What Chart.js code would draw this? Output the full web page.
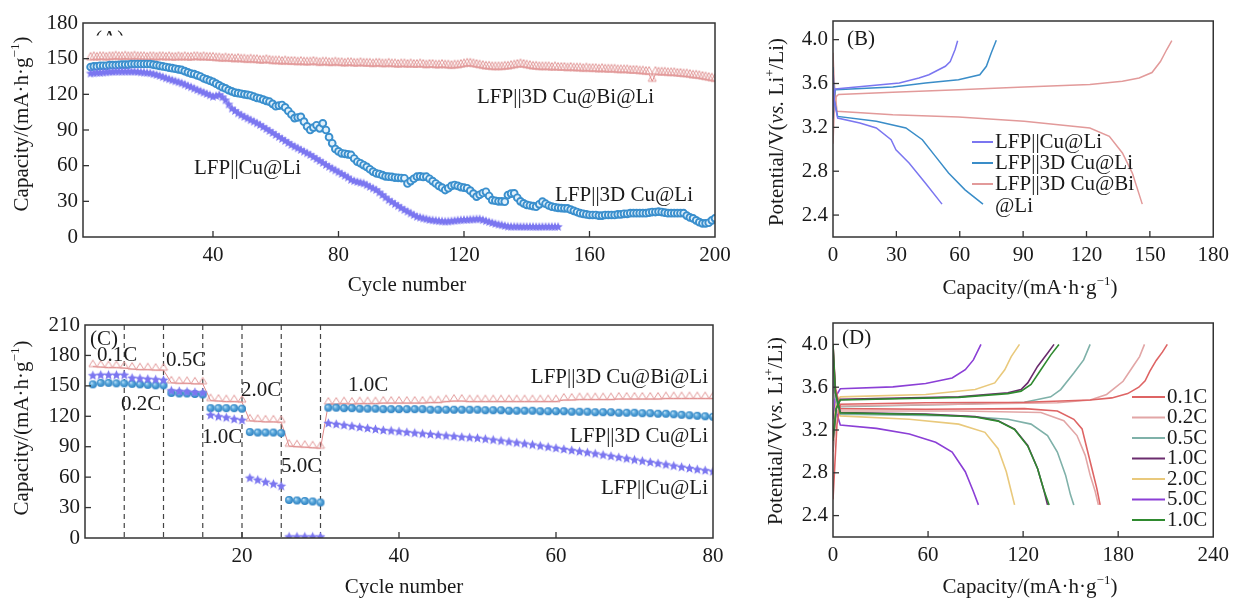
<!DOCTYPE html>
<html>
<head>
<meta charset="utf-8">
<script src="https://cdn.jsdelivr.net/npm/chart.js@4.4.1/dist/chart.umd.min.js"></script>
<style>
  body { margin: 0; background: #fff; }
  #wrap { position: relative; width: 1235px; height: 599px; }
  #wrap canvas { position: absolute; left: 0; top: 0; }
</style>
</head>
<body>
<div id="wrap">
  <canvas id="cA" width="1235" height="599"></canvas>
  <canvas id="cB" width="1235" height="599"></canvas>
  <canvas id="cC" width="1235" height="599"></canvas>
  <canvas id="cD" width="1235" height="599"></canvas>
</div>
<script>
// (A) 循环性能, 每个数组一个值对应一圈
const capA_BiLi = [
  149, 149.5, 149, 149.5, 149.5, 149, 149.5, 149.5, 150, 149.5,
  149.5, 150, 149.5, 149.5, 150, 149.5, 149.5, 149.5, 149, 149.5,
  149.5, 149, 149.5, 149.5, 149, 149.5, 149, 149, 149.5, 149,
  149.5, 149, 149, 149.5, 149.5, 149, 149.5, 149, 149, 149,
  148.5, 148.5, 148, 148.5, 148, 148, 147.5, 148, 147.5, 147.5,
  147, 147.5, 147, 147, 146.5, 146.5, 147, 146.5, 146, 146,
  146, 145.5, 146, 145.5, 145.5, 145.5, 145, 145.5, 145, 145,
  145, 145.5, 145, 144.5, 145, 145, 144.5, 144.5, 145, 144.5,
  144.5, 144, 144.5, 144.5, 144, 144, 144.5, 144, 144, 144,
  143.5, 144, 144, 143.5, 143.5, 144, 143.5, 143.5, 143, 143.5,
  143.5, 143, 143.5, 143, 143, 143.5, 143, 142.5, 143, 143,
  142.5, 142.5, 143, 142.5, 142.5, 142, 142.5, 142.5, 143, 143.5,
  144, 144, 143.5, 143, 142.5, 142, 141.5, 141.5, 141, 141,
  141, 141, 141.5, 141.5, 142, 142.5, 143, 143.5, 143, 142.5,
  142, 141.5, 141.5, 141, 141, 141, 141, 140.5, 141, 140.5,
  140.5, 140.5, 140, 140.5, 140, 140, 140, 139.5, 140, 139.5,
  139.5, 139.5, 139, 139.5, 139, 139, 139, 139, 138.5, 138.5,
  138.5, 138.5, 138, 138, 138, 137.5, 137.5, 137, 137, 131,
  137, 136.5, 136.5, 136.5, 136, 136, 136, 135.5, 135.5, 135,
  135, 134.5, 134, 134, 133.5, 133, 132.5, 132, 131.5, 131
];
const capA_3DLi = [
  143, 143.5, 143.5, 144, 144, 144, 144.5, 144.5, 144.5, 144.7,
  145, 145, 145, 145.5, 145.5, 145.5, 145.5, 145.5, 145.5, 145.5,
  145, 144.5, 144, 143.5, 143, 142.5, 142, 141.5, 141, 140.5,
  139.5, 138.5, 137.5, 137, 136, 135, 133.5, 132.5, 131.5, 130.5,
  129, 127.5, 126, 125, 123.5, 122.5, 121.5, 121, 120.5, 120,
  119.5, 119, 118, 117, 116.5, 115.5, 114.5, 113.8, 112, 110,
  110.5, 111, 109, 106, 103, 100, 100.5, 101, 97, 93,
  90, 92, 94, 91.4, 95.6, 90, 84, 78.8, 74, 72,
  70.4, 70, 69.5, 69, 66, 63.3, 62, 60.5, 59, 57,
  55, 53.6, 53, 52, 51, 50.7, 50.5, 50, 49.8, 49.6,
  49.4, 45, 47, 49, 50.7, 51, 50.5, 50.7, 49, 47,
  45, 43, 41.5, 39.5, 41, 43, 43.7, 43, 42, 41.5,
  41, 39, 36.5, 34, 35.5, 37, 38, 34.5, 31, 30.5,
  30, 30, 29.7, 35.3, 36.5, 36.7, 33, 30, 28.3, 27,
  26.5, 26, 25.5, 27.5, 29.7, 28, 26.5, 25.5, 25, 24.5,
  24.3, 24.1, 24, 23, 22, 21, 20, 19.5, 19, 18.5,
  18.5, 18.5, 18, 18, 18.5, 18.5, 18.5, 18.5, 19, 19,
  19.5, 19.5, 20, 20, 20, 20, 20, 20, 20.5, 21,
  21, 21.3, 21, 20.5, 20, 20, 20, 20, 20, 20,
  18, 16.5, 15.7, 14, 12.5, 11.5, 11.5, 12, 14, 15.7
];
const capA_CuLi = [
  137.5, 137.7, 138, 138, 138.3, 138.5, 138.7, 138.8, 139, 139,
  139, 139, 139, 139, 139, 138.8, 138.5, 138.3, 138, 137.7,
  137, 136.3, 135.5, 134.5, 133.5, 132.7, 131.8, 131, 130.2, 129.3,
  128.2, 127, 126, 124.8, 123.6, 122.5, 121.4, 120.3, 119.2, 118,
  118.6, 119.4, 117.5, 115, 111.5, 108, 106, 104, 102.5, 101,
  99.7, 98.3, 97, 95.6, 94.2, 92.5, 90.8, 89.2, 87.5, 85.8,
  84.1, 82.5, 80.8, 79.1, 77.4, 76, 74.6, 73.2, 71.8, 70.4,
  69, 67.3, 65.6, 64, 62.3, 60.6, 59, 57.5, 56, 54.5,
  53, 51.5, 50, 48, 47, 46.3, 45.6, 45, 43.6, 42.2,
  40.8, 39.5, 37.4, 35.3, 33.2, 31, 29.4, 27.7, 26, 24.3,
  22.7, 21.3, 19.8, 18.4, 17, 16.3, 15.6, 15, 14.3, 14,
  13.7, 13.4, 13.1, 12.9, 13, 13.3, 13.6, 13.9, 14.1, 14.3,
  14.4, 14.6, 14.7, 14.9, 15, 14.2, 13.4, 12.6, 11.8, 11,
  10.4, 9.9, 9.3, 8.7, 8.6, 8.6, 8.6, 8.5, 8.5, 8.5,
  8.5, 8.5, 8.4, 8.4, 8.5, 8.5, 8.5, 8.5, 8.5, 8.5
];
const ticksA_x = [40, 80, 120, 160, 200];
const ticksA_y = [0, 30, 60, 90, 120, 150, 180];

// (B) 充放电曲线 [容量, 电压]
const B_CuLi_chg = [[0, 3.35], [0.5, 3.5], [1.1, 3.55], [31.4, 3.605], [40.7, 3.65], [45.4, 3.68], [53.2, 3.757], [55.5, 3.8], [57.8, 3.91], [59, 3.99]];
const B_CuLi_dis = [[0, 3.7], [0.5, 3.45], [2.2, 3.285], [12.7, 3.24], [20.5, 3.194], [27.5, 3.087], [29.8, 2.996], [36, 2.874], [43.8, 2.69], [51.6, 2.5]];
const B_3DLi_chg = [[0, 3.28], [0.5, 3.45], [1.1, 3.544], [28.3, 3.568], [43.8, 3.605], [59.4, 3.635], [69.5, 3.68], [72.6, 3.757], [74.9, 3.878], [77.3, 3.994]];
const B_3DLi_dis = [[0, 3.75], [0.6, 3.45], [2.2, 3.3], [20.5, 3.255], [34.5, 3.194], [42.3, 3.087], [48.5, 2.935], [54.7, 2.783], [62.5, 2.63], [71, 2.5]];
const B_BiLi_chg = [[0, 3.05], [0.6, 3.35], [1.5, 3.48], [2.6, 3.5], [28.3, 3.52], [59.4, 3.544], [90.5, 3.568], [121.6, 3.59], [137, 3.62], [144.9, 3.65], [151, 3.7], [155, 3.8], [158, 3.91], [160.4, 3.99]];
const B_BiLi_dis = [[0, 3.88], [0.6, 3.6], [1.9, 3.346], [28.3, 3.315], [59.4, 3.294], [90.5, 3.255], [121.6, 3.194], [130.8, 3.118], [137, 2.966], [141.7, 2.783], [146.4, 2.5]];
const ticksB_x = [0, 30, 60, 90, 120, 150, 180];
const ticksB_y = [2.4, 2.8, 3.2, 3.6, 4.0];

// (C) 倍率性能
const capC_BiLi = [
  169, 168.5, 168, 168, 167.5, 166.5, 166, 166, 165.5, 165.5,
  153, 152.5, 152.5, 152, 152, 135.5, 135, 134.5, 134.5, 134,
  115.5, 115, 114.5, 114.5, 114, 90.5, 90, 89.5, 89, 88.5,
  132, 132, 132.5, 132, 132.5, 132.5, 132.5, 133, 133, 133,
  133, 133, 133, 133.5, 133.5, 134.5, 135, 135, 134.5, 134.5,
  134.5, 134.5, 134.5, 134.5, 134.5, 134.5, 134.5, 134.5, 134.5, 134.5,
  136, 136, 136.5, 136.5, 136.5, 136.5, 136.5, 137, 137, 137,
  137, 137, 137, 137.5, 137.5, 137.5, 137.5, 137.5, 137.5, 137.5
];
const capC_3DLi = [
  151.5, 153, 153, 152.5, 152.5, 152, 151.5, 151, 150.5, 150.5,
  143, 142.5, 142.5, 142, 141.5, 128, 128, 128, 128, 127.5,
  104.5, 104, 104, 104, 103.5, 37.5, 37, 36.5, 36, 35,
  128.5, 128.5, 128, 128, 127.5, 127.5, 127.5, 127, 127, 127,
  127, 127, 127, 126.5, 126.5, 126.5, 126.5, 126.5, 126.5, 126.5,
  126, 126, 126, 125.5, 125.5, 125.5, 125.5, 125, 125, 125,
  125, 124.5, 124.5, 124.5, 124, 124, 124, 123.5, 123.5, 123.5,
  123, 123, 122.5, 122.5, 122, 121.5, 121, 120.5, 120, 119.5
];
const capC_CuLi = [
  160, 160.5, 160.5, 160.5, 160.5, 157.5, 157, 156.5, 156, 155.5,
  145, 144.5, 144, 143.5, 143, 121, 119.5, 118.5, 117, 116,
  59, 57, 55, 53, 51, 1, 1, 1, 1, 1,
  113, 112, 111, 110, 109, 108, 107, 106, 105.5, 104.8,
  104, 103.3, 102.6, 102, 101.3, 100.6, 100, 99.3, 98.8, 98.3,
  97.4, 96.5, 95.6, 94.7, 93.7, 92.7, 91.7, 90.6, 89.5, 88.4,
  87.3, 86.2, 85.1, 84, 82.9, 81.7, 80.5, 79.3, 78.1, 76.9,
  75.7, 74.5, 73.3, 72.1, 70.9, 69.7, 68.5, 67.3, 66.4, 65.4
];
const rateSwitchC = [5, 10, 15, 20, 25, 30];
const ticksC_x = [20, 40, 60, 80];
const ticksC_y = [0, 30, 60, 90, 120, 150, 180, 210];

// (D) 不同倍率的充放电曲线
const D_01_chg = [[0, 2.55], [2.5, 3.25], [4.6, 3.44], [58.5, 3.455], [120.8, 3.46], [162.3, 3.48], [176, 3.5], [186, 3.54], [193, 3.6], [197, 3.66], [200, 3.75], [204, 3.85], [208, 3.93], [211, 4.0]];
const D_01_dis = [[0, 4.0], [1.5, 3.6], [4.6, 3.4], [58.5, 3.394], [120.8, 3.4], [141.6, 3.378], [152, 3.3], [157.2, 3.21], [160.3, 3.025], [163.4, 2.84], [166.5, 2.655], [168.6, 2.5]];
const D_02_chg = [[0, 3.0], [2, 3.35], [4.6, 3.425], [79.3, 3.44], [141.6, 3.455], [162.3, 3.48], [172.7, 3.532], [183.1, 3.655], [189.3, 3.794], [193.5, 3.886], [196.6, 4.0]];
const D_02_dis = [[0, 3.95], [1.5, 3.55], [4.6, 3.378], [79.3, 3.378], [131.2, 3.363], [145.7, 3.286], [154, 3.148], [159.2, 2.963], [162.3, 2.778], [165.5, 2.625], [167.5, 2.5]];
const D_05_chg = [[0, 3.0], [2, 3.35], [4.6, 3.418], [79.3, 3.44], [120.8, 3.46], [137.4, 3.51], [143.7, 3.578], [152, 3.732], [158.2, 3.855], [162.3, 4.0]];
const D_05_dis = [[0, 3.9], [1.5, 3.5], [4.6, 3.348], [79.3, 3.332], [110.4, 3.3], [125, 3.255], [135.4, 3.148], [141.6, 2.994], [146.8, 2.778], [149.9, 2.594], [152, 2.5]];
const D_10_chg = [[0, 3.1], [2, 3.4], [4.6, 3.486], [79.3, 3.51], [110.4, 3.548], [118.7, 3.578], [122.9, 3.64], [129.1, 3.794], [135.4, 3.917], [139.5, 4.0]];
const D_10_dis = [[0, 4.0], [1.5, 3.55], [4.6, 3.363], [58.5, 3.348], [89.7, 3.326], [104.2, 3.286], [114.6, 3.209], [122.9, 3.055], [129.1, 2.84], [133.3, 2.625], [135.4, 2.5]];
const D_20_chg = [[0, 3.2], [2, 3.45], [4.6, 3.51], [58.5, 3.532], [89.7, 3.578], [102.1, 3.64], [108.4, 3.763], [112.5, 3.886], [117.7, 4.0]];
const D_20_dis = [[0, 3.9], [1.5, 3.5], [4.6, 3.332], [48.2, 3.3], [79.3, 3.255], [95.9, 3.178], [104.2, 3.025], [109.4, 2.81], [112.5, 2.625], [114.6, 2.5]];
const D_50_chg = [[0, 3.3], [2, 3.52], [4.6, 3.585], [37.8, 3.603], [58.5, 3.634], [75.2, 3.686], [83.5, 3.763], [88.6, 3.855], [93.4, 4.0]];
const D_50_dis = [[0, 3.8], [1.5, 3.4], [4.6, 3.246], [27.4, 3.215], [48.2, 3.163], [64.8, 3.086], [75.2, 2.994], [83.5, 2.81], [88.6, 2.625], [91.8, 2.5]];
const D_10b_chg = [[0, 3.1], [2, 3.4], [4.6, 3.48], [79.3, 3.505], [110.4, 3.54], [118.7, 3.563], [125, 3.625], [131.2, 3.763], [137.4, 3.9], [142.6, 4.0]];
const D_10b_dis = [[0, 4.0], [1.5, 3.55], [4.6, 3.36], [58.5, 3.345], [89.7, 3.322], [104.2, 3.283], [114.6, 3.205], [122.9, 3.05], [129.1, 2.84], [133.3, 2.63], [136.4, 2.5]];
const ticksD_x = [0, 60, 120, 180, 240];
const ticksD_y = [2.4, 2.8, 3.2, 3.6, 4.0];

const FONT = '"Liberation Serif", "Times New Roman", serif';
const INK = '#1a1a1a';
const PURPLE = '#7b76f0', BLUE = '#3a8dc8', PINK = '#e29a9a';

const toXY = arr => arr.map(p => ({ x: p[0], y: p[1] }));
const toSeries = arr => arr.map((v, i) => ({ x: i + 1, y: v }));

// 标记图片
function starMark(r, color) {
  const s = Math.ceil(r * 2) + 2;
  const c = document.createElement('canvas');
  c.width = c.height = s;
  const g = c.getContext('2d');
  g.fillStyle = color;
  g.beginPath();
  for (let i = 0; i < 10; i++) {
    const rr = i % 2 ? r * 0.45 : r;
    const a = -Math.PI / 2 + i * Math.PI / 5;
    const px = s / 2 + rr * Math.cos(a), py = s / 2 + rr * Math.sin(a);
    if (i) g.lineTo(px, py); else g.moveTo(px, py);
  }
  g.closePath();
  g.fill();
  return c;
}
function ballMark(r) {
  const s = Math.ceil(r * 2) + 2;
  const c = document.createElement('canvas');
  c.width = c.height = s;
  const g = c.getContext('2d');
  const grad = g.createRadialGradient(s / 2 - r * 0.35, s / 2 - r * 0.35, 0, s / 2, s / 2, r);
  grad.addColorStop(0, '#cfeafb');
  grad.addColorStop(0.45, '#5daadd');
  grad.addColorStop(1, '#2a7fc0');
  g.fillStyle = grad;
  g.beginPath();
  g.arc(s / 2, s / 2, r, 0, Math.PI * 2);
  g.fill();
  return c;
}
// 三角形底边落在数据点上
function triMark(w, h, color) {
  const c = document.createElement('canvas');
  c.width = w + 2;
  c.height = 2 * h + 2;
  const g = c.getContext('2d');
  g.strokeStyle = color;
  g.lineWidth = 1;
  g.beginPath();
  g.moveTo(1, h + 1);
  g.lineTo(w + 1, h + 1);
  g.lineTo(w / 2 + 1, 1.5);
  g.closePath();
  g.stroke();
  return c;
}

function drawRich(ctx, item) {
  const size = item.size || 21;
  const segs = typeof item.t === 'string' ? [{ t: item.t }] : item.t;
  const fontOf = s => (s.it ? 'italic ' : '') + (s.sup ? Math.round(size * 0.62) : size) + 'px ' + FONT;
  let w = 0;
  segs.forEach(s => { ctx.font = fontOf(s); s.w = ctx.measureText(s.t).width; w += s.w; });
  ctx.save();
  ctx.translate(item.x, item.y);
  if (item.rot) ctx.rotate(-Math.PI / 2);
  let x0 = item.align === 'left' ? 0 : item.align === 'right' ? -w : -w / 2;
  ctx.fillStyle = INK;
  ctx.textBaseline = 'middle';
  ctx.textAlign = 'left';
  segs.forEach(s => {
    ctx.font = fontOf(s);
    ctx.fillText(s.t, x0, s.sup ? -size * 0.3 : 0);
    x0 += s.w;
  });
  ctx.restore();
}

const capTitle = [{ t: 'Capacity/(mA·h·g' }, { t: '−1', sup: true }, { t: ')' }];
const potTitle = [{ t: 'Potential/V(' }, { t: 'vs.', it: true }, { t: ' Li' }, { t: '+', sup: true }, { t: '/Li)' }];

// 边框, 内向刻度, 文字, 图例
const decor = {
  id: 'decor',
  beforeDatasetsDraw(chart) {
    const ex = chart.options.plugins.decor;
    const { ctx, chartArea: a } = chart;
    if (ex.dividers) {
      ctx.save();
      ctx.strokeStyle = '#444';
      ctx.lineWidth = 1.2;
      ctx.setLineDash([5, 4]);
      ex.dividers.forEach(v => {
        const x = chart.scales.x.getPixelForValue(v);
        ctx.beginPath();
        ctx.moveTo(x, a.top);
        ctx.lineTo(x, a.bottom);
        ctx.stroke();
      });
      ctx.restore();
    }
  },
  afterDraw(chart) {
    const ex = chart.options.plugins.decor;
    const { ctx, chartArea: a } = chart;
    ctx.save();
    ctx.strokeStyle = '#333';
    ctx.lineWidth = 1.5;
    ctx.strokeRect(a.left, a.top, a.right - a.left, a.bottom - a.top);
    ctx.lineWidth = 1.3;
    chart.scales.x.ticks.forEach(t => {
      const x = chart.scales.x.getPixelForValue(t.value);
      if (x - a.left < 2 || a.right - x < 2) return;
      ctx.beginPath(); ctx.moveTo(x, a.bottom); ctx.lineTo(x, a.bottom - 6); ctx.stroke();
    });
    chart.scales.y.ticks.forEach(t => {
      const y = chart.scales.y.getPixelForValue(t.value);
      if (y - a.top < 2 || a.bottom - y < 2) return;
      ctx.beginPath(); ctx.moveTo(a.left, y); ctx.lineTo(a.left + 6, y); ctx.stroke();
    });
    ctx.restore();
    (ex.texts || []).forEach(it => drawRich(ctx, it));
    if (ex.legend) {
      const lg = ex.legend;
      lg.items.forEach((it, i) => {
        const y = lg.y0 + i * lg.dy;
        ctx.save();
        ctx.strokeStyle = it.c;
        ctx.lineWidth = 2;
        ctx.beginPath(); ctx.moveTo(lg.x1, y); ctx.lineTo(lg.x2, y); ctx.stroke();
        ctx.restore();
        drawRich(ctx, { t: it.t, x: lg.tx, y: y, align: 'left' });
      });
    }
    if (ex.clipLabel) {
      const c = ex.clipLabel;
      ctx.save();
      ctx.beginPath();
      ctx.rect(c.x - 2, c.y - 30, 40, c.clip - (c.y - 30));
      ctx.clip();
      ctx.fillStyle = INK;
      ctx.font = '21px ' + FONT;
      ctx.textBaseline = 'alphabetic';
      ctx.fillText(c.t, c.x, c.y);
      ctx.restore();
    }
  }
};

function axis(min, max, ticks, dec, isX) {
  return {
    type: 'linear',
    min: min,
    max: max,
    afterBuildTicks: s => { s.ticks = ticks.map(v => ({ value: v })); },
    afterFit: s => { if (isX) s.height = 40; else s.width = 60; },
    grid: { display: false, drawTicks: false },
    border: { display: false },
    ticks: {
      color: INK,
      font: { family: FONT, size: 21 },
      padding: isX ? 6 : 5,
      autoSkip: false,
      maxRotation: 0,
      callback: v => v.toFixed(dec)
    }
  };
}

function makeChart(id, area, xAxis, yAxis, datasets, decorOpts) {
  const [L, T, R, B] = area;
  return new Chart(document.getElementById(id), {
    type: 'scatter',
    data: { datasets: datasets },
    options: {
      responsive: false,
      animation: false,
      events: [],
      layout: { padding: { left: L - 60, top: T, right: 1235 - R, bottom: 599 - B - 40 } },
      scales: { x: xAxis, y: yAxis },
      plugins: { legend: { display: false }, tooltip: { enabled: false }, decor: decorOpts }
    },
    plugins: [decor]
  });
}

function curve(arr, color, w) {
  return { data: toXY(arr), showLine: true, borderColor: color, borderWidth: w || 1.5, pointRadius: 0, tension: 0 };
}

// ---- (A) ----
makeChart('cA', [83, 23, 715, 237],
  axis(-1.43, 200, ticksA_x, 0, true), axis(0, 180, ticksA_y, 0, false),
  [
    { data: toSeries(capA_CuLi), pointStyle: starMark(4.9, PURPLE), pointRadius: 3 },
    { data: toSeries(capA_3DLi), pointStyle: 'circle', pointRadius: 3.4, borderWidth: 1.9, borderColor: '#3a8fcd', backgroundColor: '#e2f1fb' },
    { data: toSeries(capA_BiLi), pointStyle: triMark(8, 8, PINK), pointRadius: 3, showLine: true, borderColor: '#e08888', borderWidth: 1 }
  ],
  {
    texts: [
      { t: 'LFP||3D Cu@Bi@Li', x: 477, y: 97, align: 'left' },
      { t: 'LFP||Cu@Li', x: 194, y: 168, align: 'left' },
      { t: 'LFP||3D Cu@Li', x: 555, y: 195, align: 'left' },
      { t: capTitle, x: 22, y: 124, rot: true },
      { t: 'Cycle number', x: 407, y: 285 }
    ],
    clipLabel: { t: '(A)', x: 95, y: 45, clip: 35.5 }
  });

// ---- (B) ----
makeChart('cB', [833, 21, 1219, 237],
  axis(0, 180, ticksB_x, 0, true), axis(2.2, 4.17, ticksB_y, 1, false),
  [
    curve(B_CuLi_chg, PURPLE), curve(B_CuLi_dis, PURPLE),
    curve(B_3DLi_chg, BLUE), curve(B_3DLi_dis, BLUE),
    curve(B_BiLi_chg, PINK), curve(B_BiLi_dis, PINK)
  ],
  {
    texts: [
      { t: '(B)', x: 847, y: 39, align: 'left' },
      { t: potTitle, x: 777, y: 132, rot: true },
      { t: capTitle, x: 1030, y: 288 },
      { t: '@Li', x: 995, y: 206, align: 'left' }
    ],
    legend: {
      x1: 972, x2: 993, tx: 995, y0: 142, dy: 21,
      items: [{ c: PURPLE, t: 'LFP||Cu@Li' }, { c: BLUE, t: 'LFP||3D Cu@Li' }, { c: PINK, t: 'LFP||3D Cu@Bi' }]
    }
  });

// ---- (C) ----
makeChart('cC', [85, 325, 713, 538],
  axis(0, 80, ticksC_x, 0, true), axis(0, 210, ticksC_y, 0, false),
  [
    { data: toSeries(capC_CuLi), pointStyle: starMark(5.2, PURPLE), pointRadius: 3 },
    { data: toSeries(capC_3DLi), pointStyle: ballMark(4), pointRadius: 3 },
    { data: toSeries(capC_BiLi), pointStyle: triMark(8, 7, PINK), pointRadius: 3, showLine: true, borderColor: '#e08888', borderWidth: 1 }
  ],
  {
    dividers: rateSwitchC,
    texts: [
      { t: '(C)', x: 90, y: 339, align: 'left' },
      { t: '0.1C', x: 97, y: 355, align: 'left' },
      { t: '0.5C', x: 166, y: 360, align: 'left' },
      { t: '0.2C', x: 121, y: 404, align: 'left' },
      { t: '2.0C', x: 241, y: 390, align: 'left' },
      { t: '1.0C', x: 202, y: 437, align: 'left' },
      { t: '5.0C', x: 281, y: 466, align: 'left' },
      { t: '1.0C', x: 348, y: 385, align: 'left' },
      { t: 'LFP||3D Cu@Bi@Li', x: 708, y: 377, align: 'right' },
      { t: 'LFP||3D Cu@Li', x: 708, y: 436, align: 'right' },
      { t: 'LFP||Cu@Li', x: 708, y: 488, align: 'right' },
      { t: capTitle, x: 22, y: 428, rot: true },
      { t: 'Cycle number', x: 404, y: 587 }
    ]
  });

// ---- (D) ----
const colD = ['#de6464', '#e2a6a6', '#7fb1a9', '#6b2c6e', '#e9c97c', '#8b3fd6', '#2f8a2f'];
makeChart('cD', [833, 323, 1215, 537],
  axis(0, 240, ticksD_x, 0, true), axis(2.2, 4.2, ticksD_y, 1, false),
  [
    curve(D_10b_chg, colD[6], 1.6), curve(D_10b_dis, colD[6], 1.6),
    curve(D_10_chg, colD[3], 1.6), curve(D_10_dis, colD[3], 1.6),
    curve(D_01_chg, colD[0], 1.6), curve(D_01_dis, colD[0], 1.6),
    curve(D_02_chg, colD[1], 1.6), curve(D_02_dis, colD[1], 1.6),
    curve(D_05_chg, colD[2], 1.6), curve(D_05_dis, colD[2], 1.6),
    curve(D_20_chg, colD[4], 1.6), curve(D_20_dis, colD[4], 1.6),
    curve(D_50_chg, colD[5], 1.6), curve(D_50_dis, colD[5], 1.6)
  ],
  {
    texts: [
      { t: '(D)', x: 842, y: 338, align: 'left' },
      { t: potTitle, x: 776, y: 431, rot: true },
      { t: capTitle, x: 1030, y: 587 }
    ],
    legend: {
      x1: 1132, x2: 1165, tx: 1167, y0: 397, dy: 20.5,
      items: ['0.1C', '0.2C', '0.5C', '1.0C', '2.0C', '5.0C', '1.0C'].map((t, i) => ({ c: colD[i], t: t }))
    }
  });
</script>
</body>
</html>
